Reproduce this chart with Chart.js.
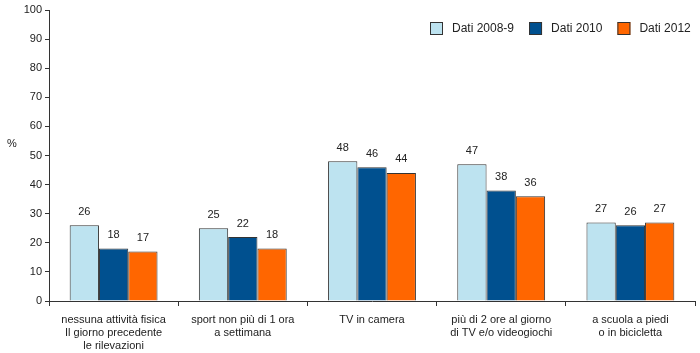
<!DOCTYPE html>
<html lang="it">
<head>
<meta charset="UTF-8">
<title>Attività fisica</title>
<script src="https://cdn.jsdelivr.net/npm/chart.js"></script>
<style>
  html, body { margin: 0; padding: 0; background: #fff; }
  #wrap { width: 700px; height: 353px; position: relative; }
</style>
</head>
<body>
<div id="wrap"><canvas id="chart" width="700" height="353"></canvas></div>
<script>
const categories = [
  ["nessuna attività fisica", "Il giorno precedente", "le rilevazioni"],
  ["sport non più di 1 ora", "a settimana"],
  ["TV in camera"],
  ["più di 2 ore al giorno", "di TV e/o videogiochi"],
  ["a scuola a piedi", "o in bicicletta"]
];
const seriesNames = ["Dati 2008-9", "Dati 2010", "Dati 2012"];
const dati2008 = [26, 25, 48, 47, 27];
const dati2010 = [18, 22, 46, 38, 26];
const dati2012 = [17, 18, 44, 36, 27];
const colors = ["#bde3f0", "#00508f", "#ff6600"];

const FONT = "'Liberation Sans', Arial, sans-serif";

// value labels above each bar
const valueLabels = {
  id: "valueLabels",
  afterDatasetsDraw(chart) {
    const ctx = chart.ctx;
    ctx.save();
    ctx.font = "11px " + FONT;
    ctx.fillStyle = "#222";
    ctx.textAlign = "center";
    ctx.textBaseline = "bottom";
    chart.data.datasets.forEach((ds, i) => {
      chart.getDatasetMeta(i).data.forEach((bar, j) => {
        ctx.fillText(ds.data[j], bar.x, bar.y - 8);
      });
    });
    ctx.restore();
  }
};

// legend drawn over the plot, top right, plus the "%" axis title
const extras = {
  id: "extras",
  afterDraw(chart) {
    const ctx = chart.ctx;
    ctx.save();
    ctx.font = "11px " + FONT;
    ctx.fillStyle = "#222";
    ctx.textBaseline = "middle";
    ctx.fillText("%", 7, 144);

    ctx.font = "12px " + FONT;
    let x = 430, y = 28;
    chart.data.datasets.forEach(ds => {
      ctx.fillStyle = ds.backgroundColor;
      ctx.fillRect(x, y - 6, 13, 13);
      ctx.strokeStyle = "#333";
      ctx.lineWidth = 1;
      ctx.strokeRect(x + 0.5, y - 5.5, 12, 12);
      ctx.fillStyle = "#222";
      ctx.fillText(ds.label, x + 22, y + 1);
      x += 22 + ctx.measureText(ds.label).width + 15;
    });
    ctx.restore();
  }
};

new Chart(document.getElementById("chart"), {
  type: "bar",
  data: {
    labels: categories,
    datasets: [dati2008, dati2010, dati2012].map((d, i) => ({
      label: seriesNames[i],
      data: d,
      backgroundColor: colors[i],
      borderColor: "#333",
      borderWidth: 1,
      barPercentage: 1,
      categoryPercentage: 0.68
    }))
  },
  options: {
    responsive: false,
    animation: false,
    devicePixelRatio: 1,
    layout: { padding: { top: 10, right: 5, left: 0, bottom: 0 } },
    plugins: { legend: { display: false }, tooltip: { enabled: false } },
    scales: {
      x: {
        offset: true,
        grid: { offset: true, drawOnChartArea: false, drawTicks: true, tickLength: 5, color: "#333" },
        border: { color: "#333" },
        ticks: { autoSkip: false, font: { family: FONT, size: 11 }, color: "#222", maxRotation: 0, padding: 7 },
        afterFit(scale) { scale.height = 52; }
      },
      y: {
        min: 0, max: 100,
        grid: { drawOnChartArea: false, drawTicks: true, tickLength: 4, color: "#333" },
        border: { color: "#333" },
        ticks: { stepSize: 10, font: { family: FONT, size: 11 }, color: "#222", padding: 3 },
        afterFit(scale) { scale.width = 49; }
      }
    }
  },
  plugins: [valueLabels, extras]
});
</script>
</body>
</html>
